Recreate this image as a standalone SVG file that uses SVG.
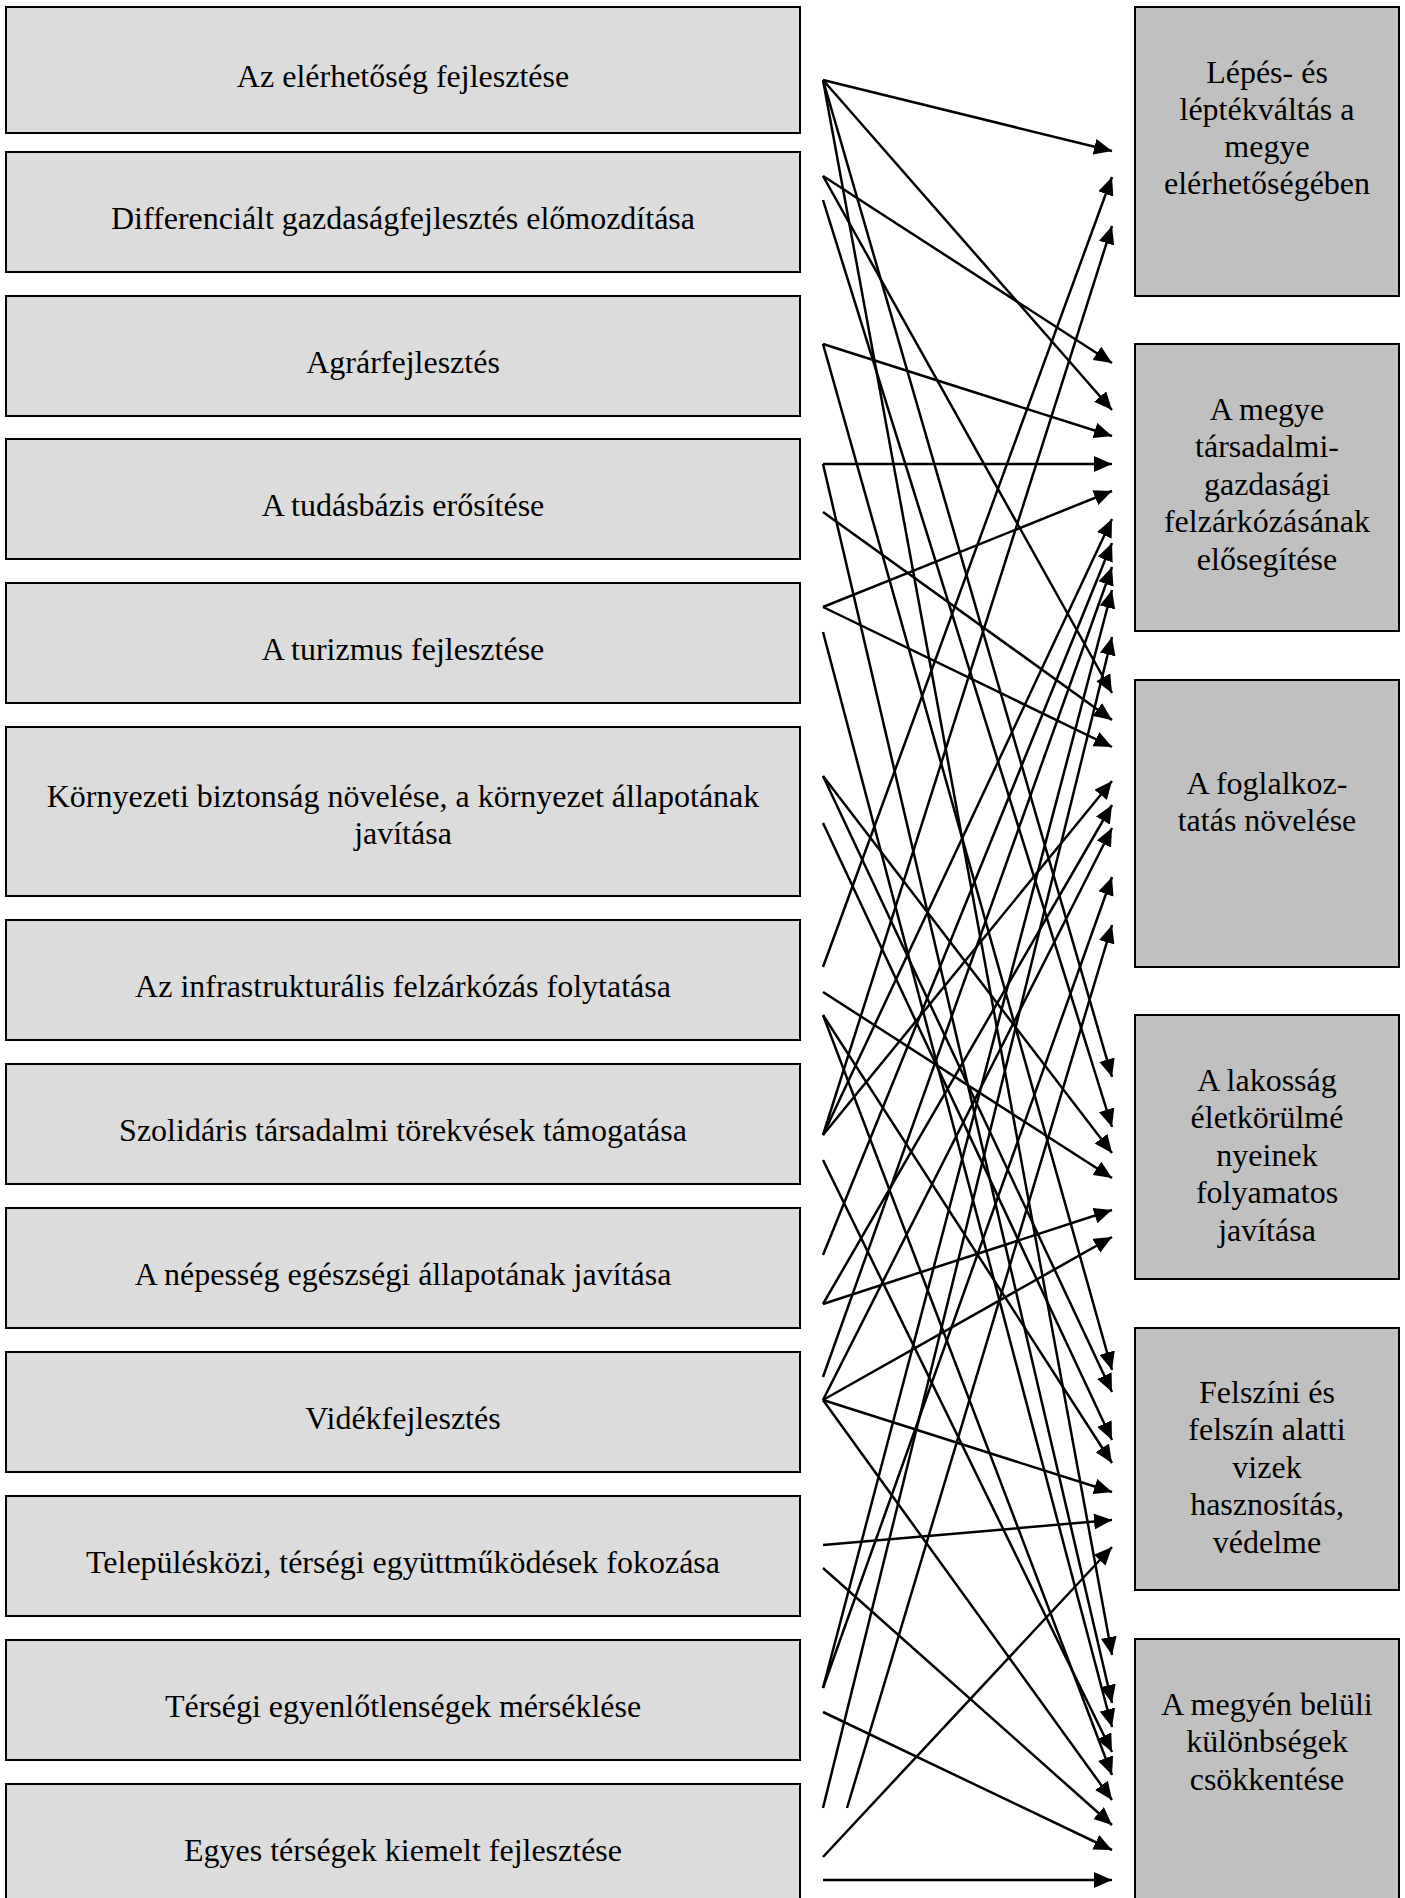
<svg xmlns="http://www.w3.org/2000/svg" width="1405" height="1898" viewBox="0 0 1405 1898">
<defs>
<style>
.lb{fill:#dcdcdc;stroke:#000;stroke-width:2}
.rb{fill:#c0c0c0;stroke:#000;stroke-width:2}
text{font-family:"Liberation Serif","Times New Roman",serif;font-size:32px;fill:#000;text-anchor:middle}
#connectors line{stroke:#000;stroke-width:2.5;marker-end:url(#ah)}
</style>
<marker id="ah" markerUnits="userSpaceOnUse" markerWidth="18" markerHeight="16" refX="18" refY="8" orient="auto">
<path d="M0,0 L18,8 L0,16 z" fill="#000"/>
</marker>
</defs>
<rect width="1405" height="1898" fill="#fff"/>
<g id="left-nodes">
<g id="L1"><rect class="lb" x="6" y="7" width="794" height="126"/><text x="403" y="87">Az elérhetőség fejlesztése</text></g>
<g id="L2"><rect class="lb" x="6" y="152" width="794" height="120"/><text x="403" y="229">Differenciált gazdaságfejlesztés előmozdítása</text></g>
<g id="L3"><rect class="lb" x="6" y="296" width="794" height="120"/><text x="403" y="373">Agrárfejlesztés</text></g>
<g id="L4"><rect class="lb" x="6" y="439" width="794" height="120"/><text x="403" y="516">A tudásbázis erősítése</text></g>
<g id="L5"><rect class="lb" x="6" y="583" width="794" height="120"/><text x="403" y="660">A turizmus fejlesztése</text></g>
<g id="L6"><rect class="lb" x="6" y="727" width="794" height="169"/><text x="403" y="807">Környezeti biztonság növelése, a környezet állapotának</text><text x="403" y="844">javítása</text></g>
<g id="L7"><rect class="lb" x="6" y="920" width="794" height="120"/><text x="403" y="997">Az infrastrukturális felzárkózás folytatása</text></g>
<g id="L8"><rect class="lb" x="6" y="1064" width="794" height="120"/><text x="403" y="1141">Szolidáris társadalmi törekvések támogatása</text></g>
<g id="L9"><rect class="lb" x="6" y="1208" width="794" height="120"/><text x="403" y="1285">A népesség egészségi állapotának javítása</text></g>
<g id="L10"><rect class="lb" x="6" y="1352" width="794" height="120"/><text x="403" y="1429">Vidékfejlesztés</text></g>
<g id="L11"><rect class="lb" x="6" y="1496" width="794" height="120"/><text x="403" y="1573">Településközi, térségi együttműködések fokozása</text></g>
<g id="L12"><rect class="lb" x="6" y="1640" width="794" height="120"/><text x="403" y="1717">Térségi egyenlőtlenségek mérséklése</text></g>
<g id="L13"><rect class="lb" x="6" y="1784" width="794" height="130"/><text x="403" y="1861">Egyes térségek kiemelt fejlesztése</text></g>
</g>
<g id="right-nodes">
<g id="R1"><rect class="rb" x="1135" y="7" width="264" height="289"/><text x="1267" y="83">Lépés- és</text><text x="1267" y="120">léptékváltás a</text><text x="1267" y="157">megye</text><text x="1267" y="194">elérhetőségében</text></g>
<g id="R2"><rect class="rb" x="1135" y="344" width="264" height="287"/><text x="1267" y="420">A megye</text><text x="1267" y="457">társadalmi-</text><text x="1267" y="495">gazdasági</text><text x="1267" y="532">felzárkózásának</text><text x="1267" y="570">elősegítése</text></g>
<g id="R3"><rect class="rb" x="1135" y="680" width="264" height="287"/><text x="1267" y="794">A foglalkoz-</text><text x="1267" y="831">tatás növelése</text></g>
<g id="R4"><rect class="rb" x="1135" y="1015" width="264" height="264"/><text x="1267" y="1091">A lakosság</text><text x="1267" y="1128">életkörülmé</text><text x="1267" y="1166">nyeinek</text><text x="1267" y="1203">folyamatos</text><text x="1267" y="1241">javítása</text></g>
<g id="R5"><rect class="rb" x="1135" y="1328" width="264" height="262"/><text x="1267" y="1403">Felszíni és</text><text x="1267" y="1440">felszín alatti</text><text x="1267" y="1478">vizek</text><text x="1267" y="1515">hasznosítás,</text><text x="1267" y="1553">védelme</text></g>
<g id="R6"><rect class="rb" x="1135" y="1639" width="264" height="275"/><text x="1267" y="1715">A megyén belüli</text><text x="1267" y="1752">különbségek</text><text x="1267" y="1790">csökkentése</text></g>
</g>
<g id="connectors">
<line x1="823" y1="80" x2="1112" y2="151"/>
<line x1="823" y1="80" x2="1112" y2="410"/>
<line x1="823" y1="80" x2="1112" y2="1077"/>
<line x1="823" y1="80" x2="1112" y2="1655"/>
<line x1="823" y1="176" x2="1112" y2="363"/>
<line x1="823" y1="176" x2="1112" y2="693"/>
<line x1="823" y1="200" x2="1112" y2="1127"/>
<line x1="823" y1="344" x2="1112" y2="436"/>
<line x1="823" y1="344" x2="1112" y2="1370"/>
<line x1="823" y1="464" x2="1112" y2="464"/>
<line x1="823" y1="464" x2="1112" y2="1703"/>
<line x1="823" y1="512" x2="1112" y2="720"/>
<line x1="823" y1="607" x2="1112" y2="491"/>
<line x1="823" y1="607" x2="1112" y2="747"/>
<line x1="823" y1="632" x2="1112" y2="1727"/>
<line x1="823" y1="776" x2="1112" y2="1153"/>
<line x1="823" y1="776" x2="1112" y2="1392"/>
<line x1="823" y1="823" x2="1112" y2="1440"/>
<line x1="823" y1="967" x2="1112" y2="177"/>
<line x1="823" y1="992" x2="1112" y2="1178"/>
<line x1="823" y1="1015" x2="1112" y2="1463"/>
<line x1="823" y1="1015" x2="1112" y2="1775"/>
<line x1="823" y1="1135" x2="1112" y2="226"/>
<line x1="823" y1="1135" x2="1112" y2="519"/>
<line x1="823" y1="1135" x2="1112" y2="781"/>
<line x1="823" y1="1160" x2="1112" y2="1752"/>
<line x1="823" y1="1255" x2="1112" y2="543"/>
<line x1="823" y1="1304" x2="1112" y2="1210"/>
<line x1="823" y1="1304" x2="1112" y2="805"/>
<line x1="823" y1="1377" x2="1112" y2="567"/>
<line x1="823" y1="1400" x2="1112" y2="1237"/>
<line x1="823" y1="1400" x2="1112" y2="1492"/>
<line x1="823" y1="1400" x2="1112" y2="1800"/>
<line x1="823" y1="1400" x2="1112" y2="828"/>
<line x1="823" y1="1545" x2="1112" y2="1520"/>
<line x1="823" y1="1568" x2="1112" y2="1825"/>
<line x1="823" y1="1688" x2="1112" y2="590"/>
<line x1="823" y1="1688" x2="1112" y2="877"/>
<line x1="823" y1="1712" x2="1112" y2="1850"/>
<line x1="823" y1="1808" x2="1112" y2="637"/>
<line x1="847" y1="1808" x2="1112" y2="925"/>
<line x1="823" y1="1857" x2="1112" y2="1547"/>
<line x1="823" y1="1880" x2="1112" y2="1880"/>
</g>
</svg>
